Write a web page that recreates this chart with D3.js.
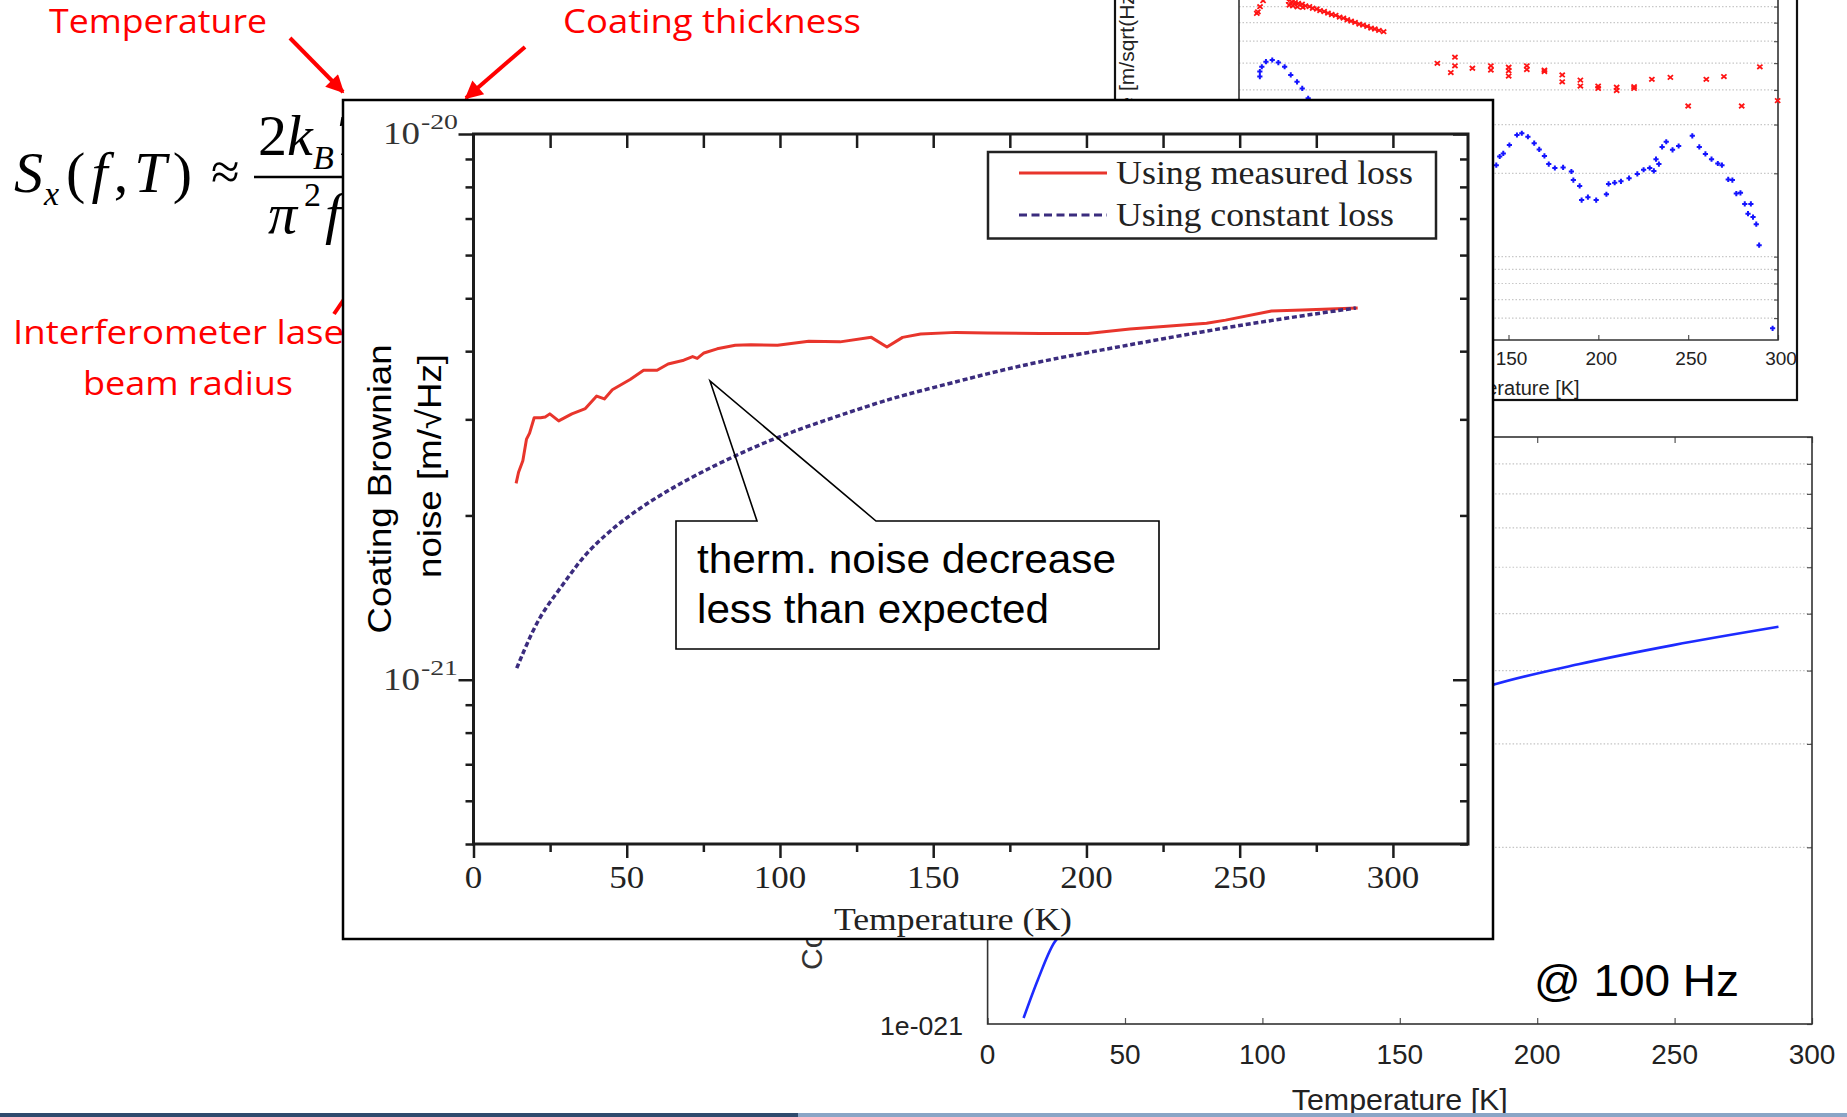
<!DOCTYPE html>
<html>
<head>
<meta charset="utf-8">
<title>Coating Brownian noise vs temperature</title>
<script src="https://cdn.jsdelivr.net/npm/d3@7"></script>
<style>
  body { margin: 0; background: #fff; }
  svg { display: block; }
</style>
</head>
<body>
<div id="slide"></div>
<script>
// ---- main inset: coating Brownian noise at 100 Hz
const measuredTemp = [13.9, 14.7, 16.1, 17.3, 18.3, 19.8, 21.9, 23.4, 24.9, 27.8,
  32.1, 36.5, 40.2, 42.7, 45.3, 51.1, 55.5, 59.9, 63.5, 68.6,
  71.5, 73.0, 75.2, 79.5, 85.4, 90.5, 99.2, 109.4, 119.6, 129.8,
  134.9, 140.0, 145.9, 157.5, 167.7, 184.9, 200.4, 214.2, 239.2, 245.4,
  260.4, 270.4, 288.5];
const measuredNoise = [2.29e-21, 2.40e-21, 2.52e-21, 2.76e-21, 2.83e-21, 3.02e-21, 3.02e-21, 3.03e-21, 3.07e-21, 2.98e-21,
  3.07e-21, 3.14e-21, 3.31e-21, 3.27e-21, 3.40e-21, 3.55e-21, 3.69e-21, 3.69e-21, 3.79e-21, 3.85e-21,
  3.91e-21, 3.88e-21, 3.97e-21, 4.04e-21, 4.10e-21, 4.11e-21, 4.10e-21, 4.17e-21, 4.16e-21, 4.24e-21,
  4.07e-21, 4.24e-21, 4.30e-21, 4.33e-21, 4.32e-21, 4.31e-21, 4.31e-21, 4.39e-21, 4.50e-21, 4.56e-21,
  4.74e-21, 4.76e-21, 4.80e-21];
const constantTemp = [14.1, 17.3, 21.7, 27.1, 32.6, 38.0, 51.1, 70.1, 87.6, 102.1,
  131.3, 139.2, 160.4, 170.5, 184.9, 201.7, 239.2, 264.1, 287.9];
const constantNoise = [1.05e-21, 1.16e-21, 1.31e-21, 1.44e-21, 1.59e-21, 1.74e-21, 2.02e-21, 2.34e-21, 2.61e-21, 2.83e-21,
  3.21e-21, 3.31e-21, 3.55e-21, 3.67e-21, 3.83e-21, 3.99e-21, 4.36e-21, 4.59e-21, 4.80e-21];
const legendLabels = ["Using measured loss", "Using constant loss"];
const mainXTicks = [0, 50, 100, 150, 200, 250, 300];
const mainXMinor = [25, 75, 125, 175, 225, 275];
const mainYDecades = [1e-21, 1e-20];
const calloutLines = ["therm. noise decrease", "less than expected"];

// ---- top-right background plot (scatter, y in units of 1e-20)
const redTemp = [9.9, 10.5, 11.7, 13.4, 27.7, 28.0, 29.5, 30.0, 31.2, 32.5, 33.0, 35.1, 35.5, 37.0, 39.2, 41.0, 43.3, 45.1,
  47.4, 49.5, 51.6, 53.8, 56.0, 58.1, 60.3, 62.4, 64.6, 66.9, 69.0, 71.3, 73.5, 75.6, 77.9, 80.5,
  110.4, 117.9, 120.2, 120.2, 129.9, 140.2, 140.2, 150.1, 150.1, 150.1, 160.2, 160.2, 170.0, 170.0,
  179.9, 179.9, 190.0, 190.0, 199.9, 199.9, 210.2, 210.2, 219.9, 219.9, 229.8, 240.1, 250.0, 260.1,
  269.9, 279.8, 289.9, 299.8];
const redValue = [7.56, 7.66, 7.99, 8.40, 8.38, 8.10, 8.31, 8.05, 8.27, 7.98, 8.21, 8.16, 7.95, 8.05, 8.00, 7.89, 7.84, 7.74,
  7.68, 7.58, 7.49, 7.44, 7.33, 7.27, 7.17, 7.09, 7.01, 6.92, 6.86, 6.78, 6.69, 6.64, 6.56, 6.49,
  4.99, 4.62, 5.25, 4.89, 4.79, 4.89, 4.72, 4.83, 4.69, 4.49, 4.89, 4.74, 4.72, 4.66,
  4.53, 4.28, 4.34, 4.13, 4.13, 4.05, 4.09, 3.98, 4.11, 4.05, 4.37, 4.44, 3.50, 4.37,
  4.47, 3.50, 4.85, 3.66];
const blueTemp = [11.6, 11.6, 12.7, 15.0, 18.5, 21.9, 25.4, 28.8, 32.3, 35.2, 38.5,
  143.2, 145.1, 147.1, 150.5, 154.7, 157.4, 160.8, 164.3, 167.1, 170.0,
  172.4, 175.8, 180.4, 185.0, 186.1, 189.6, 190.7, 194.2, 198.8, 204.5,
  205.7, 209.1, 212.6, 217.1, 221.7, 225.2, 228.6, 230.9, 232.1, 233.7,
  235.5, 237.8, 241.3, 244.7, 252.3, 256.2, 259.6, 263.0, 266.5, 268.8,
  272.3, 274.6, 276.8, 279.1, 281.5, 283.3, 284.9, 286.1, 287.9, 289.5, 297.0];
const blueValue = [4.47, 4.66, 4.85, 5.06, 5.13, 5.02, 4.85, 4.53, 4.28, 4.05, 3.73,
  2.14, 2.30, 2.36, 2.53, 2.75, 2.79, 2.71, 2.57, 2.44, 2.31,
  2.16, 2.09, 2.10, 2.03, 1.89, 1.80, 1.60, 1.64, 1.60, 1.68,
  1.83, 1.85, 1.87, 1.92, 1.99, 2.06, 2.09, 2.04, 2.25, 2.16,
  2.49, 2.60, 2.43, 2.51, 2.73, 2.49, 2.35, 2.25, 2.17, 2.14,
  1.90, 1.89, 1.69, 1.70, 1.55, 1.43, 1.55, 1.39, 1.31, 1.10, 0.551];
const trXTicks = [0, 50, 100, 150, 200, 250, 300];

// ---- bottom-right background plot (simulation @ 100 Hz)
const simTemp = [13.1, 18.3, 24.9, 184.6, 215.0, 249.5, 287.8];
const simNoise = [1.024e-21, 1.19e-21, 1.39e-21, 3.79e-21, 4.10e-21, 4.42e-21, 4.75e-21];
const brXTicks = [0, 50, 100, 150, 200, 250, 300];

const W = 1847, H = 1117;
const serif = "'Liberation Serif', 'Times New Roman', serif";
const sans = "'Liberation Sans', Arial, sans-serif";
const red = "#ff0000";

const svg = d3.select("#slide").append("svg")
    .attr("width", W)
    .attr("height", H);

svg.append("defs").append("marker")
    .attr("id", "redhead")
    .attr("viewBox", "0 0 10 10")
    .attr("refX", 9).attr("refY", 5)
    .attr("markerWidth", 5).attr("markerHeight", 4.5)
    .attr("orient", "auto")
    .append("path")
    .attr("d", "M0,0 L10,5 L0,10 z")
    .attr("fill", red);

function fitWidth(sel, target, visiblePart) {
    // stretch a label so that its visible part spans the width seen in the picture
    const node = sel.node();
    const full = node.getComputedTextLength();
    const ref = visiblePart ? node.getSubStringLength(0, visiblePart.length) : full;
    sel.attr("textLength", full * target / ref).attr("lengthAdjust", "spacingAndGlyphs");
}

function styleTicks(g, color, width) {
    g.select(".domain").remove();
    g.selectAll(".tick line").attr("stroke", color).attr("stroke-width", width);
}

// ================= bottom-right plot =================
const brX = d3.scaleLinear().domain([0, 300]).range([987.6, 1812]);
const brY = d3.scaleLog().domain([1e-21, 1e-20]).range([1024, 437]);
const br = svg.append("g");

br.selectAll("line.grid")
    .data(brY.ticks().filter(d => d > 1.01e-21 && d < 0.99e-20))
    .join("line")
    .attr("class", "grid")
    .attr("x1", brX(0)).attr("x2", brX(300))
    .attr("y1", d => brY(d)).attr("y2", d => brY(d))
    .attr("stroke", "#c4c4c4")
    .attr("stroke-width", 1.2)
    .attr("stroke-dasharray", "1.5,2");

br.append("g").attr("transform", `translate(0,${brY(1e-21)})`)
    .call(d3.axisBottom(brX).tickValues(brXTicks).tickSize(-6).tickFormat(""))
    .call(g => styleTicks(g, "#555", 1.2));
br.append("g").attr("transform", `translate(0,${brY(1e-20)})`)
    .call(d3.axisTop(brX).tickValues(brXTicks).tickSize(-6).tickFormat(""))
    .call(g => styleTicks(g, "#555", 1.2));
br.append("g").attr("transform", `translate(${brX(300)},0)`)
    .call(d3.axisRight(brY).tickSize(-5).tickFormat(""))
    .call(g => styleTicks(g, "#555", 1.2));

br.append("rect")
    .attr("x", brX(0)).attr("y", brY(1e-20))
    .attr("width", brX(300) - brX(0)).attr("height", brY(1e-21) - brY(1e-20))
    .attr("fill", "none").attr("stroke", "#333").attr("stroke-width", 1.6);

br.append("path")
    .datum(simTemp.map((t, i) => [t, simNoise[i]]))
    .attr("d", d3.line().x(d => brX(d[0])).y(d => brY(d[1])).curve(d3.curveMonotoneX))
    .attr("fill", "none").attr("stroke", "#1d2bff").attr("stroke-width", 2.6);

br.selectAll("text.xt").data(brXTicks).join("text")
    .attr("class", "xt")
    .attr("x", d => brX(d)).attr("y", 1064)
    .attr("text-anchor", "middle")
    .attr("font-family", sans).attr("font-size", 28).attr("fill", "#222")
    .text(d => d);
br.append("text")
    .attr("x", (brX(0) + brX(300)) / 2).attr("y", 1110)
    .attr("text-anchor", "middle")
    .attr("font-family", sans).attr("font-size", 29).attr("fill", "#222")
    .attr("textLength", 216).attr("lengthAdjust", "spacingAndGlyphs")
    .text("Temperature [K]");
br.append("text")
    .attr("x", 963).attr("y", 1035)
    .attr("text-anchor", "end")
    .attr("font-family", sans).attr("font-size", 26).attr("fill", "#222")
    .attr("textLength", 83).attr("lengthAdjust", "spacingAndGlyphs")
    .text("1e-021");
br.append("text")
    .attr("transform", "translate(822,970) rotate(-90)")
    .attr("font-family", sans).attr("font-size", 30).attr("fill", "#333")
    .text("Coating Brownian noise");
br.append("text")
    .attr("x", 1534).attr("y", 996)
    .attr("font-family", sans).attr("font-size", 45).attr("fill", "#000")
    .attr("textLength", 205).attr("lengthAdjust", "spacingAndGlyphs")
    .text("@ 100 Hz");

// ================= top-right plot =================
const trX = d3.scaleLinear().domain([0, 300]).range([1239, 1778]);
const trY = d3.scaleLog().domain([0.5, 8.45]).range([340, 0]);
const tr = svg.append("g");

tr.append("rect")
    .attr("x", 1115).attr("y", -3).attr("width", 682).attr("height", 403)
    .attr("fill", "#fff").attr("stroke", "#111").attr("stroke-width", 2.2);

tr.selectAll("line.grid")
    .data(trY.ticks().filter(d => d > 0.51))
    .join("line")
    .attr("class", "grid")
    .attr("x1", trX(0)).attr("x2", trX(300))
    .attr("y1", d => trY(d)).attr("y2", d => trY(d))
    .attr("stroke", "#c8c8c8")
    .attr("stroke-width", 1.2)
    .attr("stroke-dasharray", "1.5,2");

tr.append("g").attr("transform", `translate(0,${trY(0.5)})`)
    .call(d3.axisBottom(trX).tickValues(trXTicks).tickSize(-5).tickFormat(""))
    .call(g => styleTicks(g, "#555", 1.2));
tr.append("g").attr("transform", `translate(${trX(300)},0)`)
    .call(d3.axisRight(trY).tickValues(trY.ticks().filter(d => d > 0.51)).tickSize(-4).tickFormat(""))
    .call(g => styleTicks(g, "#555", 1.2));
tr.append("path")
    .attr("d", `M${trX(0)},0 V${trY(0.5)} H${trX(300)} V0`)
    .attr("fill", "none").attr("stroke", "#333").attr("stroke-width", 1.6);

const redPts = redTemp.map((t, i) => [t, redValue[i]]);
tr.selectAll("path.rx").data(redPts).join("path")
    .attr("class", "rx")
    .attr("transform", d => `translate(${trX(d[0])},${trY(d[1])})`)
    .attr("d", "M-2.6,-2.2 L2.6,2.2 M-2.6,2.2 L2.6,-2.2")
    .attr("stroke", "#ff1414").attr("stroke-width", 1.8);

const bluePts = blueTemp.map((t, i) => [t, blueValue[i]]);
tr.selectAll("path.bp").data(bluePts).join("path")
    .attr("class", "bp")
    .attr("transform", d => `translate(${trX(d[0])},${trY(d[1])})`)
    .attr("d", "M-2.6,0 H2.6 M0,-2.6 V2.6")
    .attr("stroke", "#1414ff").attr("stroke-width", 2);

tr.selectAll("text.xt").data(trXTicks).join("text")
    .attr("class", "xt")
    .attr("x", d => trX(d) + 3).attr("y", 365)
    .attr("text-anchor", "middle")
    .attr("font-family", sans).attr("font-size", 19).attr("fill", "#222")
    .text(d => d);
tr.append("text")
    .attr("x", (trX(0) + trX(300)) / 2).attr("y", 395)
    .attr("text-anchor", "middle")
    .attr("font-family", sans).attr("font-size", 20).attr("fill", "#222")
    .text("Temperature [K]");
// y label of the hidden plot, cropped by the slide edge in the original too
tr.append("text")
    .attr("transform", "translate(1134,91) rotate(-90)")
    .attr("font-family", sans).attr("font-size", 21).attr("fill", "#222")
    .text("[m/sqrt(Hz)]");
tr.append("text")
    .attr("transform", "translate(1134,97) rotate(-90)")
    .attr("text-anchor", "end")
    .attr("font-family", sans).attr("font-size", 21).attr("fill", "#222")
    .text("Coating noise");

// ================= slide annotations =================
const notes = svg.append("g").attr("font-family", "'Open Sans', 'Noto Sans', sans-serif")
    .attr("font-size", 32).attr("fill", red);
fitWidth(notes.append("text").attr("x", 49).attr("y", 33).text("Temperature"), 218);
fitWidth(notes.append("text").attr("x", 563).attr("y", 33).text("Coating thickness"), 298);
fitWidth(notes.append("text").attr("x", 13).attr("y", 344).text("Interferometer laser"), 331, "Interferometer lase");
fitWidth(notes.append("text").attr("x", 83).attr("y", 395).text("beam radius"), 210);

const arrows = [[290, 38, 343, 92], [525, 47, 466, 98], [334, 314, 372, 258]];
svg.selectAll("line.arrow").data(arrows).join("line")
    .attr("class", "arrow")
    .attr("x1", d => d[0]).attr("y1", d => d[1])
    .attr("x2", d => d[2]).attr("y2", d => d[3])
    .attr("stroke", red).attr("stroke-width", 4)
    .attr("marker-end", "url(#redhead)");

// formula S_x(f,T) ~ 2 k_B T ... / pi^2 f ...
const fm = svg.append("g").attr("font-family", serif).attr("fill", "#000");
fm.append("text").attr("x", 14).attr("y", 192).attr("font-size", 58).attr("font-style", "italic").text("S");
fm.append("text").attr("x", 44).attr("y", 205).attr("font-size", 34).attr("font-style", "italic").text("x");
const par = fm.append("text").attr("x", 66).attr("y", 192).attr("font-size", 58)
    .attr("textLength", 126).attr("lengthAdjust", "spacing");
par.append("tspan").text("(");
par.append("tspan").attr("font-style", "italic").text("f");
par.append("tspan").text(",");
par.append("tspan").attr("font-style", "italic").text("T");
par.append("tspan").text(")");
fm.append("text").attr("x", 211).attr("y", 189).attr("font-size", 52).text("\u2248");
fm.append("line").attr("x1", 254).attr("x2", 420).attr("y1", 177).attr("y2", 177)
    .attr("stroke", "#000").attr("stroke-width", 2.6);
const num = fm.append("text").attr("x", 258).attr("y", 155).attr("font-size", 58);
num.append("tspan").text("2");
num.append("tspan").attr("font-style", "italic").text("k");
fm.append("text").attr("x", 313).attr("y", 169).attr("font-size", 34).attr("font-style", "italic").text("B");
fm.append("text").attr("x", 336).attr("y", 155).attr("font-size", 58).attr("font-style", "italic").text("T");
fm.append("text").attr("x", 268).attr("y", 233).attr("font-size", 58).attr("font-style", "italic").text("\u03c0");
fm.append("text").attr("x", 304).attr("y", 206).attr("font-size", 34).text("2");
fm.append("text").attr("x", 325).attr("y", 233).attr("font-size", 58).attr("font-style", "italic").text("f");

// ================= main inset =================
svg.append("rect")
    .attr("x", 343).attr("y", 100).attr("width", 1150).attr("height", 839)
    .attr("fill", "#fff").attr("stroke", "#000").attr("stroke-width", 2.5);

const mx = d3.scaleLinear().domain([0, 324.5]).range([473.5, 1468]);
const my = d3.scaleLog().domain([5e-22, 1e-20]).range([844, 134]);
const main = svg.append("g");
const axisColor = "#1c1c1c";

// ticks: bottom outward, top inward, left outward, right inward
main.append("g").attr("transform", `translate(0,${my(5e-22)})`)
    .call(d3.axisBottom(mx).tickValues(mainXTicks).tickSize(14).tickFormat(""))
    .call(g => styleTicks(g, axisColor, 2.5));
main.append("g").attr("transform", `translate(0,${my(5e-22)})`)
    .call(d3.axisBottom(mx).tickValues(mainXMinor).tickSize(8).tickFormat(""))
    .call(g => styleTicks(g, axisColor, 2.5));
main.append("g").attr("transform", `translate(0,${my(1e-20)})`)
    .call(d3.axisTop(mx).tickValues(mainXMinor.concat(mainXTicks.slice(1))).tickSize(-14).tickFormat(""))
    .call(g => styleTicks(g, axisColor, 2.5));
const yMinor = my.ticks().filter(d => !mainYDecades.some(v => Math.abs(d / v - 1) < 1e-6));
main.append("g").attr("transform", `translate(${mx(0)},0)`)
    .call(d3.axisLeft(my).tickValues(yMinor).tickSize(8).tickFormat(""))
    .call(g => styleTicks(g, axisColor, 2.5));
main.append("g").attr("transform", `translate(${mx(0)},0)`)
    .call(d3.axisLeft(my).tickValues(mainYDecades).tickSize(15).tickFormat(""))
    .call(g => styleTicks(g, axisColor, 2.5));
main.append("g").attr("transform", `translate(${mx(324.5)},0)`)
    .call(d3.axisRight(my).tickValues(yMinor).tickSize(-8).tickFormat(""))
    .call(g => styleTicks(g, axisColor, 2.5));
main.append("g").attr("transform", `translate(${mx(324.5)},0)`)
    .call(d3.axisRight(my).tickValues(mainYDecades).tickSize(-15).tickFormat(""))
    .call(g => styleTicks(g, axisColor, 2.5));

main.append("rect")
    .attr("x", mx(0)).attr("y", my(1e-20))
    .attr("width", mx(324.5) - mx(0)).attr("height", my(5e-22) - my(1e-20))
    .attr("fill", "none").attr("stroke", axisColor).attr("stroke-width", 3);

// tick labels
main.selectAll("text.xt").data(mainXTicks).join("text")
    .attr("class", "xt")
    .attr("x", d => mx(d)).attr("y", 888)
    .attr("text-anchor", "middle")
    .attr("font-family", serif).attr("font-size", 31).attr("fill", "#222")
    .attr("textLength", d => String(d).length * 17.5).attr("lengthAdjust", "spacingAndGlyphs")
    .text(d => d);
main.selectAll("text.ybase").data(mainYDecades).join("text")
    .attr("class", "ybase")
    .attr("x", 420).attr("y", d => my(d) + 10)
    .attr("text-anchor", "end")
    .attr("font-family", serif).attr("font-size", 31).attr("fill", "#333")
    .attr("textLength", 37).attr("lengthAdjust", "spacingAndGlyphs")
    .text("10");
main.selectAll("text.yexp").data(mainYDecades).join("text")
    .attr("class", "yexp")
    .attr("x", 421).attr("y", d => my(d) - 5)
    .attr("font-family", serif).attr("font-size", 22).attr("fill", "#333")
    .attr("textLength", 37).attr("lengthAdjust", "spacingAndGlyphs")
    .text(d => "-" + Math.round(-Math.log10(d)));

main.append("text")
    .attr("x", 953).attr("y", 930)
    .attr("text-anchor", "middle")
    .attr("font-family", serif).attr("font-size", 31).attr("fill", "#222")
    .attr("textLength", 238).attr("lengthAdjust", "spacingAndGlyphs")
    .text("Temperature (K)");
main.append("text")
    .attr("transform", "translate(391,489) rotate(-90)")
    .attr("text-anchor", "middle")
    .attr("font-family", sans).attr("font-size", 34).attr("fill", "#000")
    .attr("textLength", 289).attr("lengthAdjust", "spacingAndGlyphs")
    .text("Coating Brownian");
main.append("text")
    .attr("transform", "translate(441,466) rotate(-90)")
    .attr("text-anchor", "middle")
    .attr("font-family", sans).attr("font-size", 34).attr("fill", "#000")
    .attr("textLength", 224).attr("lengthAdjust", "spacingAndGlyphs")
    .text("noise [m/\u221aHz]");

// curves
const line = d3.line().x(d => mx(d[0])).y(d => my(d[1]));
main.append("path")
    .datum(measuredTemp.map((t, i) => [t, measuredNoise[i]]))
    .attr("d", line)
    .attr("fill", "none").attr("stroke", "#e8352c").attr("stroke-width", 3)
    .attr("stroke-linejoin", "round");
main.append("path")
    .datum(constantTemp.map((t, i) => [t, constantNoise[i]]))
    .attr("d", d3.line().x(d => mx(d[0])).y(d => my(d[1])).curve(d3.curveBasis))
    .attr("fill", "none").attr("stroke", "#3b2c7e").attr("stroke-width", 3.5)
    .attr("stroke-dasharray", "5,2.8");

// legend
const lg = main.append("g");
lg.append("rect")
    .attr("x", 988).attr("y", 152).attr("width", 448).attr("height", 86.5)
    .attr("fill", "#fff").attr("stroke", "#222").attr("stroke-width", 2.5);
const legendStyle = [
    { color: "#e8352c", dash: null, y: 173, width: 297 },
    { color: "#3b2c7e", dash: "8,4.5", y: 215, width: 278 }
];
legendLabels.forEach((label, i) => {
    const s = legendStyle[i];
    lg.append("line")
        .attr("x1", 1019).attr("x2", 1107).attr("y1", s.y).attr("y2", s.y)
        .attr("stroke", s.color).attr("stroke-width", 3)
        .attr("stroke-dasharray", s.dash);
    lg.append("text")
        .attr("x", 1116).attr("y", s.y + 10.5)
        .attr("font-family", serif).attr("font-size", 34).attr("fill", "#222")
        .attr("textLength", s.width).attr("lengthAdjust", "spacingAndGlyphs")
        .text(label);
});

// callout
main.append("rect")
    .attr("x", 676).attr("y", 521).attr("width", 483).attr("height", 128)
    .attr("fill", "#fff");
main.append("path")
    .attr("d", "M676,521 H757 L710,381 L876,521 H1159 V649 H676 Z")
    .attr("fill", "none").attr("stroke", "#000").attr("stroke-width", 1.6)
    .attr("stroke-linejoin", "miter");
main.selectAll("text.callout").data(calloutLines).join("text")
    .attr("class", "callout")
    .attr("x", 697).attr("y", (d, i) => 573 + i * 50)
    .attr("font-family", sans).attr("font-size", 41).attr("fill", "#000")
    .attr("textLength", (d, i) => i === 0 ? 419 : 352).attr("lengthAdjust", "spacingAndGlyphs")
    .text(d => d);

// slide footer band
svg.append("rect").attr("x", 0).attr("y", 1113).attr("width", 798).attr("height", 4).attr("fill", "#2f4b6e");
svg.append("rect").attr("x", 798).attr("y", 1113).attr("width", W - 798).attr("height", 4).attr("fill", "#8aa5c6");
</script>
</body>
</html>
